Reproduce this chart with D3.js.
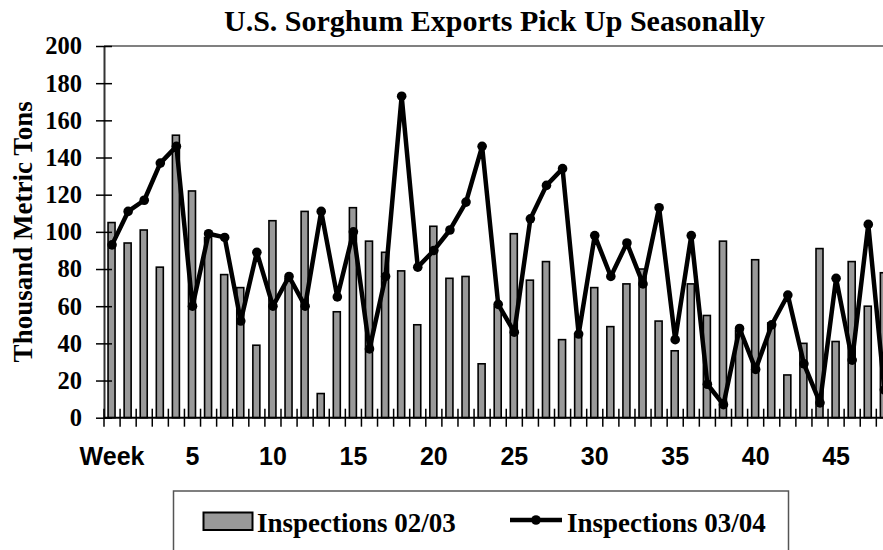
<!DOCTYPE html>
<html>
<head>
<meta charset="utf-8">
<script src="https://cdn.jsdelivr.net/npm/d3@7"></script>
<style>
  body { margin: 0; background: #fff; }
  svg { display: block; }
</style>
</head>
<body>
<svg id="chart"></svg>
<script>
(function() {

  const categories = ["Week"].concat(d3.range(1, 49).map(String));

  const tickLabels = ["Week", "5", "10", "15", "20", "25", "30", "35", "40", "45"];

  const inspections0203 = [
    105, 94, 101, 81, 152, 122, 97, 77, 70, 39,
    106, 75, 111, 13, 57, 113, 95, 89, 79, 50,
    103, 75, 76, 29, 60, 99, 74, 84, 42, 45,
    70, 49, 72, 80, 52, 36, 72, 55, 95, 47,
    85, 51, 23, 40, 91, 41, 84, 60, 78
  ];

  const inspections0304 = [
    93, 111, 117, 137, 146, 60, 99, 97, 52, 89,
    60, 76, 60, 111, 65, 100, 37, 76, 173, 81,
    90, 101, 116, 146, 61, 46, 107, 125, 134, 45,
    98, 76, 94, 72, 113, 42, 98, 18, 7, 48,
    26, 50, 66, 29, 8, 75, 31, 104, 15
  ];

  const yTicks = [0, 20, 40, 60, 80, 100, 120, 140, 160, 180, 200];

  const title = 'U.S. Sorghum Exports Pick Up Seasonally';
  const yTitle = 'Thousand Metric Tons';
  const legendNames = ['Inspections 02/03', 'Inspections 03/04'];

  const width = 883;
  const height = 550;
  const serif = '"Liberation Serif", "Times New Roman", serif';
  const sans = '"Liberation Sans", Arial, sans-serif';

  // plot area, the right side runs past the picture edge like the source
  const plot = { left: 104, top: 46, bottom: 417.7, step: 16.09 };

  const svg = d3.select('#chart')
    .attr('width', width)
    .attr('height', height);

  const x = d3.scaleBand()
    .domain(categories)
    .range([plot.left, plot.left + categories.length * plot.step])
    .paddingInner(0)
    .paddingOuter(0);

  const y = d3.scaleLinear()
    .domain([0, 200])
    .range([plot.bottom, plot.top]);

  const rows = categories.map(function(c, i) {
    return { cat: c, a: inspections0203[i], b: inspections0304[i] };
  });

  // top border of plot area
  svg.append('line')
    .attr('x1', plot.left).attr('x2', width + 20)
    .attr('y1', plot.top).attr('y2', plot.top)
    .attr('stroke', '#808080')
    .attr('stroke-width', 2);

  // bars
  const barW = 7;
  svg.append('g').attr('class', 'bars')
    .selectAll('rect')
    .data(rows)
    .enter()
    .append('rect')
    .attr('x', function(d) { return x(d.cat) + x.bandwidth() / 2 - barW / 2 - 0.5; })
    .attr('y', function(d) { return y(d.a); })
    .attr('width', barW)
    .attr('height', function(d) { return y(0) - y(d.a); })
    .attr('fill', '#999999')
    .attr('stroke', '#000')
    .attr('stroke-width', 1.6);

  // y axis
  const yAxis = d3.axisLeft(y)
    .tickValues(yTicks)
    .tickSizeInner(8)
    .tickSizeOuter(0)
    .tickPadding(14);

  const yG = svg.append('g')
    .attr('transform', 'translate(' + plot.left + ',0)')
    .call(yAxis);

  yG.select('.domain').attr('stroke', '#333').attr('stroke-width', 2);
  yG.selectAll('.tick line')
    .attr('x1', 8)
    .attr('x2', -8)
    .attr('stroke', '#000')
    .attr('stroke-width', 1.5);
  yG.selectAll('.tick text')
    .attr('x', -22)
    .style('font-family', serif)
    .style('font-weight', 'bold')
    .style('font-size', '24.5px')
    .attr('fill', '#000');

  // x axis: ticks between categories, labels every 5
  const xAxis = d3.axisBottom(x)
    .tickValues(categories.filter(function(c) { return tickLabels.indexOf(c) >= 0; }))
    .tickSize(0)
    .tickPadding(30);

  const xG = svg.append('g')
    .attr('transform', 'translate(0,' + plot.bottom + ')')
    .call(xAxis);

  xG.select('.domain').remove();
  xG.append('line')
    .attr('x1', plot.left).attr('x2', width + 20)
    .attr('y1', 0).attr('y2', 0)
    .attr('stroke', '#000')
    .attr('stroke-width', 2);
  xG.selectAll('.tick text')
    .style('font-family', sans)
    .style('font-weight', 'bold')
    .style('font-size', '25px')
    .attr('fill', '#000');

  xG.append('g').selectAll('line')
    .data(categories)
    .enter()
    .append('line')
    .attr('x1', function(d) { return x(d); })
    .attr('x2', function(d) { return x(d); })
    .attr('y1', -9)
    .attr('y2', 9)
    .attr('stroke', '#000')
    .attr('stroke-width', 1.5);

  // line series
  const line = d3.line()
    .x(function(d) { return x(d.cat) + x.bandwidth() / 2; })
    .y(function(d) { return y(d.b); });

  svg.append('path')
    .datum(rows)
    .attr('d', line)
    .attr('fill', 'none')
    .attr('stroke', '#000')
    .attr('stroke-width', 4.5)
    .attr('stroke-linejoin', 'round');

  svg.append('g').selectAll('circle')
    .data(rows)
    .enter()
    .append('circle')
    .attr('cx', function(d) { return x(d.cat) + x.bandwidth() / 2; })
    .attr('cy', function(d) { return y(d.b); })
    .attr('r', 4.8)
    .attr('fill', '#000');

  // titles
  svg.append('text')
    .attr('x', 224)
    .attr('y', 31)
    .style('font-family', serif)
    .style('font-weight', 'bold')
    .style('font-size', '30px')
    .text(title);

  svg.append('text')
    .attr('transform', 'translate(32,' + ((plot.top + plot.bottom) / 2) + ') rotate(-90)')
    .attr('text-anchor', 'middle')
    .style('font-family', serif)
    .style('font-weight', 'bold')
    .style('font-size', '27px')
    .text(yTitle);

  // legend
  const legend = svg.append('g').attr('class', 'legend');

  legend.append('rect')
    .attr('x', 173.5).attr('y', 491)
    .attr('width', 615).attr('height', 80)
    .attr('fill', '#fff')
    .attr('stroke', '#555')
    .attr('stroke-width', 1.5);

  legend.append('rect')
    .attr('x', 203.5).attr('y', 512.5)
    .attr('width', 49).attr('height', 17.5)
    .attr('fill', '#999999')
    .attr('stroke', '#000')
    .attr('stroke-width', 2);

  legend.append('text')
    .attr('x', 257).attr('y', 531.5)
    .style('font-family', serif)
    .style('font-weight', 'bold')
    .style('font-size', '27px')
    .text(legendNames[0]);

  legend.append('line')
    .attr('x1', 510).attr('x2', 562)
    .attr('y1', 520).attr('y2', 520)
    .attr('stroke', '#000')
    .attr('stroke-width', 4.5);

  legend.append('circle')
    .attr('cx', 536).attr('cy', 520)
    .attr('r', 4.8)
    .attr('fill', '#000');

  legend.append('text')
    .attr('x', 567).attr('y', 531.5)
    .style('font-family', serif)
    .style('font-weight', 'bold')
    .style('font-size', '27px')
    .text(legendNames[1]);

})();
</script>
</body>
</html>
